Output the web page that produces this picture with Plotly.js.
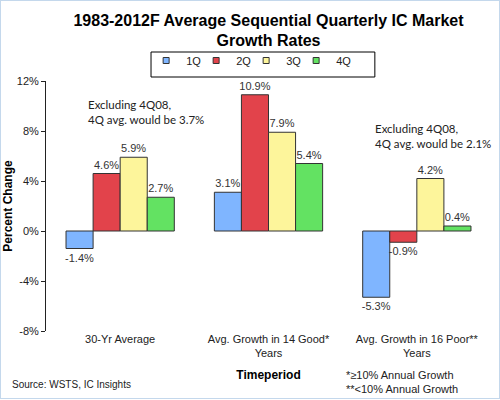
<!DOCTYPE html>
<html>
<head>
<meta charset="utf-8">
<script src="https://cdn.plot.ly/plotly-3.0.1.min.js"></script>
<style>
  html, body { margin: 0; padding: 0; background: #fff; }
  #chart { width: 498px; height: 397px; border: 1px solid #c4d8ec; }
</style>
</head>
<body>
<div id="chart"></div>
<script>
// categories and values (percent change)
var periods = ['30-Yr Average', 'Avg. Growth in 14 Good*<br>Years', 'Avg. Growth in 16 Poor**<br>Years'];
var quarters = ['1Q', '2Q', '3Q', '4Q'];
var q1 = [-1.4, 3.1, -5.3];
var q2 = [4.6, 10.9, -0.9];
var q3 = [5.9, 7.9, 4.2];
var q4 = [2.7, 5.4, 0.4];
var yTicks = [-8, -4, 0, 4, 8, 12];

var colors = ['#7fb5ff', '#e2434b', '#fdf59b', '#63e262'];
var series = [q1, q2, q3, q4];

var data = [];
series.forEach(function(vals, i){
    data.push({
        type: 'bar',
        x: periods,
        y: vals,
        name: quarters[i],
        showlegend: false,
        marker: { color: colors[i], line: { color: '#333', width: 1 } },
        texttemplate: '%{y:.1f}%',
        textposition: 'outside',
        constraintext: 'none',
        cliponaxis: false,
        textfont: { family: 'Liberation Sans, Arial', size: 11, color: '#333' },
        hoverinfo: 'skip'
    });
});
// legend only entries (small square markers)
quarters.forEach(function(q, i){
    data.push({
        type: 'scatter',
        mode: 'markers',
        x: [null], y: [null],
        name: q,
        marker: { symbol: 'square', size: 6, color: colors[i], line: { color: '#333', width: 1 } }
    });
});
// blank spacer entry so the last legend label is not clipped
data.push({
    type: 'scatter', mode: 'markers', x: [null], y: [null], name: ' ',
    marker: { color: 'rgba(0,0,0,0)', line: { width: 0 } }
});

var layout = {
    width: 498, height: 397,
    margin: { l: 45, r: 8, t: 80, b: 67 },
    paper_bgcolor: '#fff', plot_bgcolor: '#fff',
    font: { family: 'Liberation Sans, Arial', size: 11, color: '#222' },
    title: {
        text: '<b>1983-2012F Average Sequential Quarterly IC Market<br>Growth Rates</b>',
        font: { size: 16, color: '#000' },
        x: 0.5, xref: 'paper', y: 0.938, yanchor: 'middle'
    },
    barmode: 'group',
    bargap: 0.27,
    bargroupgap: 0,
    showlegend: true,
    legend: {
        orientation: 'h',
        x: 0.225, xanchor: 'left', y: 1.14, yanchor: 'top',
        borderwidth: 0, bgcolor: 'rgba(0,0,0,0)',
        entrywidth: 5, entrywidthmode: 'pixels',
        itemwidth: 30,
        font: { size: 11, color: '#222' }
    },
    shapes: [
        // legend frame
        { type: 'rect', xref: 'paper', yref: 'paper', x0: 0.236, x1: 0.739, y0: 1.016, y1: 1.116,
          line: { color: '#000', width: 1 }, fillcolor: 'rgba(0,0,0,0)' }
    ],
    xaxis: {
        type: 'category',
        categoryarray: periods,
        range: [-0.5, 2.5],
        showline: false, ticks: '', showgrid: false, zeroline: false,
        tickfont: { size: 11, color: '#222' },
        title: { text: '<b>Timeperiod</b>', font: { size: 12, color: '#000' }, standoff: 12 }
    },
    xaxis2: {
        overlaying: 'x', anchor: 'free', position: 0.4,
        range: [-0.5, 2.5],
        tickvals: [0.5, 1.5, 2.5],
        ticks: 'outside', ticklen: 4, tickcolor: '#444',
        showticklabels: false, showgrid: false, zeroline: false,
        showline: true, linecolor: '#444', linewidth: 1
    },
    yaxis: {
        range: [-8, 12],
        tickvals: yTicks,
        ticktext: yTicks.map(function(v){ return v + '%'; }),
        ticks: 'outside', ticklen: 4, tickcolor: '#222',
        showline: true, linecolor: '#222', linewidth: 1,
        showgrid: false, zeroline: false,
        tickfont: { size: 11, color: '#222' },
        title: { text: '<b>Percent Change</b>', font: { size: 12, color: '#000' }, standoff: 6 }
    },
    annotations: [
        { xref: 'paper', yref: 'paper', x: 0.09, y: 0.94, xanchor: 'left', yanchor: 'top', align: 'left',
          showarrow: false, text: 'Excluding 4Q08,<br>4Q avg. would be 3.7%',
          font: { family: 'Lato, Open Sans', size: 11.5, color: '#222' } },
        { xref: 'paper', yref: 'paper', x: 0.735, y: 0.845, xanchor: 'left', yanchor: 'top', align: 'left',
          showarrow: false, text: 'Excluding 4Q08,<br>4Q avg. would be 2.1%',
          font: { family: 'Lato, Open Sans', size: 11.5, color: '#222' } },
        { xref: 'paper', yref: 'paper', x: -0.08, y: -0.185, xanchor: 'left', yanchor: 'top',
          showarrow: false, text: 'Source: WSTS, IC Insights',
          font: { size: 10, color: '#222' } },
        { xref: 'paper', yref: 'paper', x: 0.67, y: -0.145, xanchor: 'left', yanchor: 'top', align: 'left',
          showarrow: false, text: '*≥10% Annual Growth<br>**<10% Annual Growth',
          font: { size: 11, color: '#222' } }
    ]
};

Plotly.newPlot('chart', data, layout, { displayModeBar: false, staticPlot: true });
</script>
</body>
</html>
